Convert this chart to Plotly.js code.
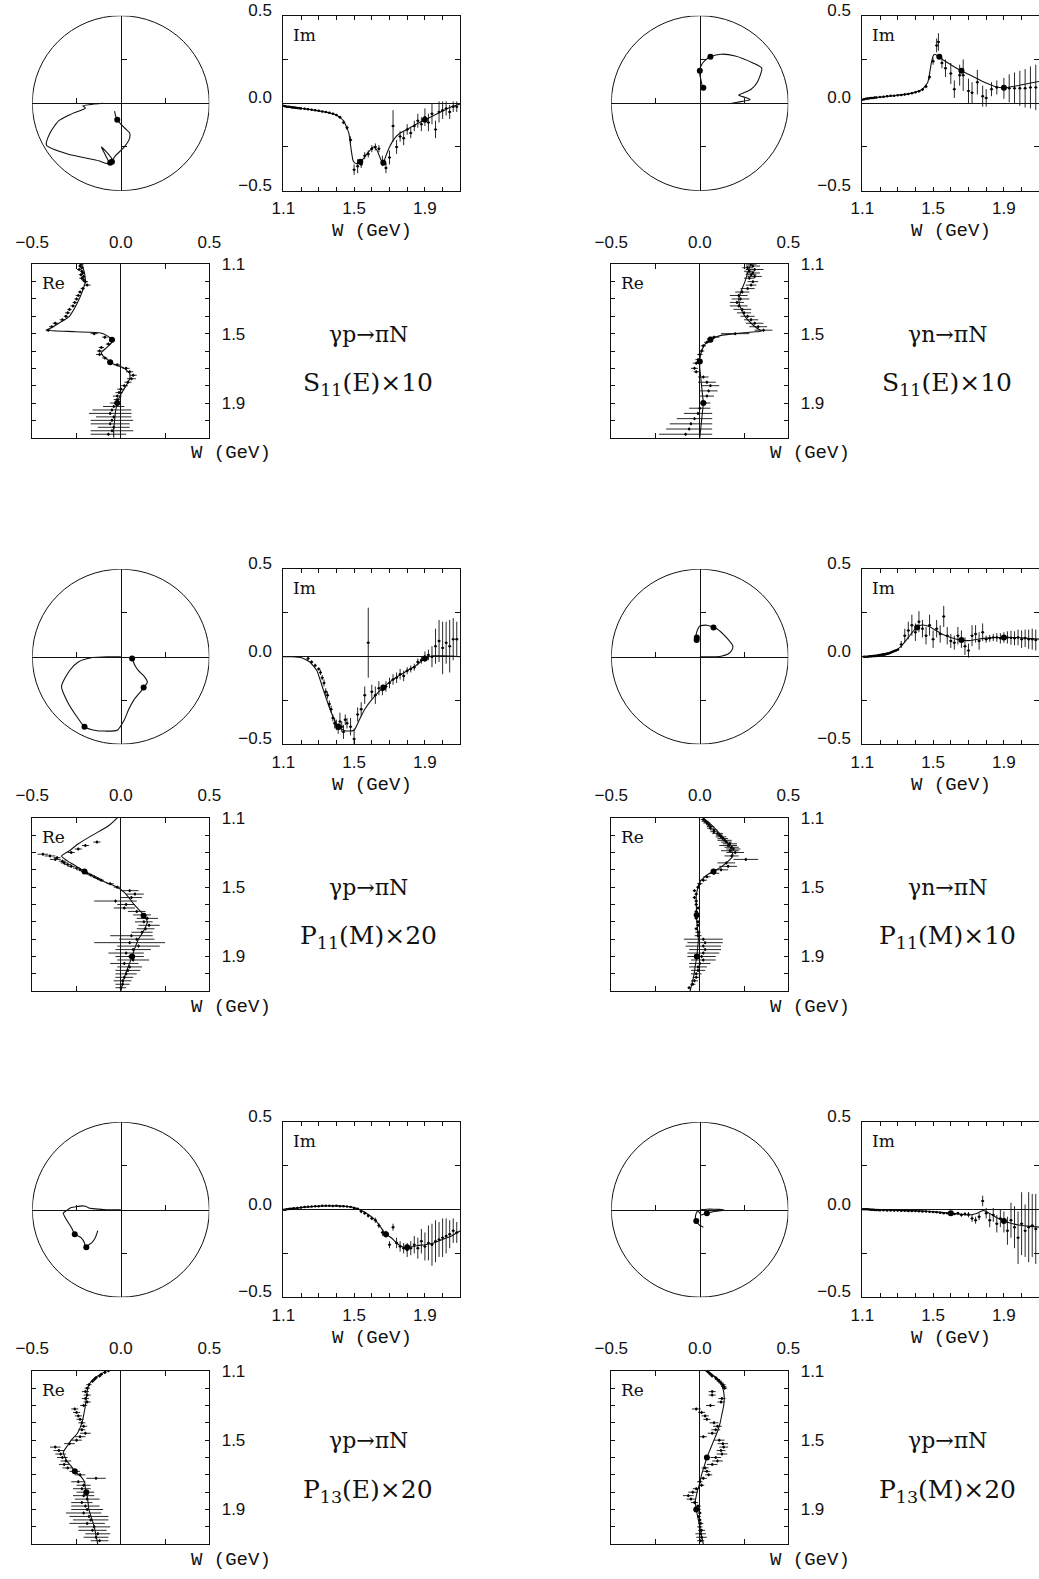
<!DOCTYPE html>
<html><head><meta charset="utf-8">
<script src="https://cdn.plot.ly/plotly-3.0.1.min.js"></script>
<style>html,body{margin:0;padding:0;background:#fff;}#chart{width:1039px;height:1579px;}</style>
</head><body><div id="chart"></div>
<script>
// ---------- tick labels ----------
const wTickVals = [1.1,1.5,1.9];
const wTickText = ['1.1','1.5','1.9'];
const wMinorVals = [1.2,1.3,1.4,1.6,1.7,1.8,2.0,2.1];
const ampTickVals = [-0.5,0,0.5];
const ampTickText = ['\u22120.5','0.0','0.5'];
const ampMinorVals = [-0.25,0.25];
const argandTickVals = [-0.25,0.25];

// ---------- panel texts ----------
const reactions = ['\u03B3p\u2192\u03C0N','\u03B3n\u2192\u03C0N','\u03B3p\u2192\u03C0N','\u03B3n\u2192\u03C0N','\u03B3p\u2192\u03C0N','\u03B3p\u2192\u03C0N'];
const waves = ['S','S','P','P','P','P'];
const waveSubs = ['11','11','11','11','13','13'];
const multipoles = ['E','E','M','M','E','M'];
const scaleFactors = ['10','10','20','10','20','20'];
const axisTitleW = 'W (GeV)';
const imLabel = 'Im';
const reLabel = 'Re';
const argandMaxW = [2.0,1.9,1.9,1.9,2.1,2.1];

// ---------- S11(E) gamma p ----------
const s11p_mW  = [1.077,1.10,1.15,1.20,1.25,1.30,1.35,1.40,1.44,1.47,1.48,1.487,1.495,1.51,1.535,1.55,1.58,1.61,1.63,1.65,1.665,1.68,1.70,1.73,1.76,1.80,1.85,1.90,1.95,2.00,2.05,2.10];
const s11p_mRe = [-0.10,-0.215,-0.205,-0.20,-0.215,-0.235,-0.26,-0.29,-0.35,-0.40,-0.42,-0.30,-0.12,-0.08,-0.05,-0.05,-0.08,-0.11,-0.10,-0.075,-0.06,-0.03,0.02,0.05,0.05,0.03,0.0,-0.02,-0.03,-0.035,-0.04,-0.04];
const s11p_mIm = [0,-0.015,-0.022,-0.029,-0.036,-0.044,-0.053,-0.067,-0.10,-0.17,-0.24,-0.29,-0.33,-0.345,-0.335,-0.32,-0.28,-0.25,-0.27,-0.32,-0.34,-0.30,-0.25,-0.20,-0.17,-0.15,-0.12,-0.095,-0.07,-0.045,-0.02,-0.005];
const s11p_resW = [1.535,1.665,1.90];
const s11p_dW = [1.10,1.11,1.12,1.13,1.14,1.15,1.16,1.17,1.18,1.19,1.20,1.22,1.24,1.26,1.28,1.30,1.32,1.34,1.36,1.38,1.40,1.42,1.44,1.46,1.48,1.50,1.52,1.54,1.56,1.58,1.60,1.62,1.64,1.66,1.68,1.70,1.72,1.74,1.76,1.78,1.80,1.82,1.84,1.86,1.88,1.90,1.92,1.94,1.96,1.98,2.00,2.02,2.04,2.06,2.08];
const s11p_dRe = [-0.225,-0.23,-0.22,-0.235,-0.22,-0.215,-0.225,-0.21,-0.22,-0.21,-0.20,-0.19,-0.215,-0.23,-0.24,-0.25,-0.26,-0.27,-0.29,-0.30,-0.31,-0.33,-0.37,-0.39,-0.41,-0.15,-0.09,-0.05,-0.07,-0.11,-0.12,-0.12,-0.09,-0.06,-0.02,0.03,0.05,0.07,0.06,0.04,0.02,0.0,-0.01,-0.02,-0.02,-0.03,-0.04,-0.05,-0.06,-0.04,-0.05,-0.06,-0.04,-0.05,-0.07];
const s11p_dReErr = [0.01,0.01,0.01,0.012,0.01,0.01,0.012,0.01,0.015,0.012,0.015,0.02,0.012,0.012,0.015,0.012,0.012,0.015,0.012,0.015,0.012,0.015,0.015,0.015,0.015,0.02,0.015,0.015,0.015,0.015,0.015,0.02,0.015,0.015,0.02,0.02,0.02,0.02,0.025,0.02,0.02,0.02,0.02,0.025,0.02,0.03,0.06,0.11,0.12,0.10,0.12,0.11,0.09,0.12,0.10];
const s11p_dIm = [-0.015,-0.017,-0.02,-0.02,-0.022,-0.024,-0.025,-0.026,-0.028,-0.029,-0.03,-0.032,-0.035,-0.037,-0.04,-0.043,-0.047,-0.05,-0.055,-0.06,-0.068,-0.08,-0.11,-0.14,-0.21,-0.38,-0.36,-0.35,-0.30,-0.29,-0.26,-0.25,-0.26,-0.33,-0.37,-0.31,-0.13,-0.25,-0.19,-0.20,-0.15,-0.17,-0.13,-0.10,-0.12,-0.08,-0.11,-0.06,-0.15,-0.05,-0.04,-0.03,-0.05,-0.02,-0.02];
const s11p_dImErr = [0.005,0.005,0.005,0.005,0.005,0.005,0.005,0.005,0.005,0.005,0.005,0.005,0.005,0.005,0.005,0.005,0.005,0.005,0.005,0.005,0.006,0.008,0.01,0.012,0.02,0.03,0.04,0.02,0.02,0.02,0.02,0.02,0.02,0.03,0.03,0.04,0.09,0.04,0.03,0.04,0.03,0.03,0.03,0.04,0.04,0.05,0.05,0.06,0.05,0.06,0.05,0.04,0.04,0.03,0.03];

// ---------- S11(E) gamma n ----------
const s11n_mW  = [1.077,1.10,1.15,1.20,1.25,1.30,1.35,1.40,1.44,1.47,1.485,1.49,1.50,1.51,1.535,1.56,1.60,1.65,1.70,1.75,1.80,1.85,1.90,1.95,2.00,2.05,2.10];
const s11n_mRe = [0.18,0.285,0.27,0.255,0.235,0.22,0.23,0.255,0.29,0.325,0.35,0.30,0.20,0.12,0.06,0.03,0.01,0.0,0.0,0.005,0.01,0.015,0.02,0.015,0.01,0.005,0.0];
const s11n_mIm = [0.0,0.02,0.028,0.034,0.04,0.045,0.052,0.062,0.08,0.12,0.20,0.23,0.27,0.28,0.265,0.245,0.22,0.19,0.165,0.14,0.115,0.095,0.088,0.095,0.105,0.115,0.124];
const s11n_resW = [1.535,1.66,1.90];
const s11n_dW = [1.10,1.11,1.12,1.13,1.14,1.15,1.16,1.17,1.18,1.20,1.22,1.24,1.26,1.28,1.30,1.32,1.34,1.36,1.38,1.40,1.42,1.44,1.46,1.48,1.50,1.52,1.53,1.55,1.57,1.60,1.62,1.65,1.67,1.70,1.72,1.75,1.78,1.80,1.83,1.86,1.90,1.93,1.96,1.99,2.02,2.05,2.08];
const s11n_dRe = [0.29,0.30,0.27,0.31,0.28,0.30,0.29,0.31,0.28,0.30,0.29,0.27,0.24,0.22,0.23,0.21,0.22,0.24,0.25,0.27,0.29,0.31,0.33,0.36,0.20,0.08,0.06,0.04,0.02,0.01,0.0,-0.01,-0.02,-0.03,-0.02,0.02,0.04,0.06,0.05,0.04,0.03,0.0,-0.01,-0.03,-0.05,-0.06,-0.08];
const s11n_dReErr = [0.03,0.04,0.03,0.05,0.03,0.04,0.03,0.04,0.03,0.03,0.03,0.04,0.04,0.05,0.05,0.04,0.05,0.05,0.04,0.04,0.04,0.05,0.05,0.05,0.08,0.03,0.02,0.015,0.015,0.015,0.015,0.015,0.02,0.02,0.015,0.03,0.05,0.05,0.05,0.04,0.03,0.06,0.08,0.10,0.12,0.13,0.15];
const s11n_dIm = [0.02,0.022,0.025,0.027,0.028,0.03,0.03,0.032,0.033,0.035,0.037,0.04,0.042,0.043,0.045,0.047,0.05,0.053,0.057,0.062,0.068,0.078,0.095,0.15,0.24,0.33,0.35,0.23,0.20,0.17,0.08,0.16,0.16,0.07,0.06,0.12,0.04,0.03,0.08,0.09,0.085,0.085,0.085,0.085,0.085,0.09,0.09];
const s11n_dImErr = [0.005,0.005,0.005,0.005,0.005,0.005,0.005,0.005,0.005,0.005,0.005,0.005,0.005,0.005,0.005,0.005,0.005,0.005,0.005,0.005,0.006,0.008,0.01,0.015,0.02,0.04,0.05,0.03,0.05,0.06,0.05,0.06,0.09,0.07,0.06,0.07,0.06,0.05,0.04,0.04,0.06,0.08,0.09,0.10,0.11,0.12,0.13];

// ---------- P11(M) gamma p ----------
const p11p_mW  = [1.077,1.10,1.15,1.20,1.25,1.29,1.32,1.35,1.38,1.41,1.44,1.47,1.50,1.53,1.56,1.60,1.65,1.70,1.75,1.80,1.85,1.90,1.95,2.00,2.05,2.10];
const p11p_mRe = [0.0,-0.02,-0.075,-0.16,-0.24,-0.29,-0.335,-0.30,-0.25,-0.205,-0.15,-0.09,-0.02,0.02,0.045,0.075,0.12,0.15,0.13,0.10,0.08,0.064,0.045,0.027,0.012,0.0];
const p11p_mIm = [0.0,0.0,0.0,-0.005,-0.03,-0.08,-0.17,-0.26,-0.34,-0.40,-0.42,-0.425,-0.42,-0.36,-0.30,-0.245,-0.19,-0.145,-0.11,-0.08,-0.05,-0.01,0.005,0.005,0.003,0.0];
const p11p_resW = [1.41,1.665,1.90];
const p11p_dW = [1.24,1.26,1.28,1.30,1.31,1.32,1.33,1.34,1.35,1.36,1.37,1.38,1.39,1.40,1.41,1.42,1.43,1.44,1.45,1.46,1.48,1.50,1.52,1.54,1.56,1.58,1.60,1.62,1.64,1.66,1.68,1.70,1.72,1.74,1.76,1.78,1.80,1.82,1.84,1.86,1.88,1.90,1.92,1.94,1.96,1.98,2.00,2.02,2.04,2.06,2.08];
const p11p_dRe = [-0.135,-0.20,-0.24,-0.28,-0.44,-0.40,-0.36,-0.37,-0.33,-0.32,-0.30,-0.28,-0.25,-0.23,-0.21,-0.19,-0.17,-0.15,-0.13,-0.11,-0.06,-0.02,0.05,0.08,0.06,-0.03,0.03,0.02,0.09,0.12,0.15,0.13,0.16,0.14,0.12,0.06,0.09,0.05,0.10,0.07,0.03,0.05,0.07,0.02,0.05,0.04,0.03,0.02,0.01,0.01,0.0];
const p11p_dReErr = [0.02,0.02,0.02,0.02,0.03,0.03,0.02,0.03,0.02,0.02,0.02,0.02,0.02,0.02,0.015,0.015,0.015,0.015,0.015,0.015,0.02,0.02,0.05,0.05,0.06,0.12,0.05,0.06,0.05,0.05,0.06,0.05,0.06,0.05,0.06,0.12,0.10,0.20,0.12,0.10,0.10,0.08,0.09,0.08,0.07,0.07,0.06,0.05,0.05,0.04,0.03];
const p11p_dIm = [-0.01,-0.03,-0.05,-0.07,-0.09,-0.12,-0.15,-0.20,-0.22,-0.27,-0.30,-0.35,-0.38,-0.39,-0.41,-0.37,-0.40,-0.43,-0.36,-0.38,-0.40,-0.47,-0.33,-0.30,-0.22,0.08,-0.20,-0.22,-0.18,-0.19,-0.17,-0.15,-0.13,-0.12,-0.10,-0.11,-0.08,-0.07,-0.06,-0.03,-0.02,0.0,0.01,0.0,0.06,0.09,0.05,0.08,0.06,0.10,0.10];
const p11p_dImErr = [0.01,0.01,0.01,0.01,0.015,0.015,0.02,0.02,0.02,0.02,0.02,0.02,0.03,0.03,0.03,0.05,0.03,0.04,0.03,0.03,0.05,0.06,0.04,0.04,0.05,0.2,0.04,0.05,0.04,0.03,0.03,0.03,0.03,0.03,0.03,0.03,0.02,0.02,0.02,0.02,0.02,0.03,0.03,0.06,0.10,0.12,0.15,0.12,0.15,0.12,0.10];

// ---------- P11(M) gamma n ----------
const p11n_mW  = [1.077,1.10,1.15,1.20,1.25,1.29,1.32,1.36,1.40,1.43,1.47,1.50,1.55,1.60,1.65,1.70,1.75,1.80,1.85,1.90,1.95,2.00,2.05,2.10];
const p11n_mRe = [0.0,0.02,0.075,0.12,0.16,0.18,0.187,0.15,0.096,0.04,0.0,-0.01,-0.02,-0.02,-0.018,-0.017,-0.012,-0.008,-0.012,-0.017,-0.025,-0.032,-0.043,-0.055];
const p11n_mIm = [0.0,0.0,0.0,0.003,0.015,0.035,0.06,0.11,0.16,0.18,0.175,0.16,0.13,0.11,0.096,0.092,0.10,0.106,0.11,0.11,0.11,0.108,0.104,0.10];
const p11n_resW = [1.41,1.66,1.90];
const p11n_dW = [1.11,1.12,1.13,1.14,1.15,1.16,1.17,1.18,1.19,1.20,1.21,1.22,1.23,1.24,1.25,1.26,1.27,1.28,1.29,1.30,1.32,1.34,1.36,1.38,1.40,1.42,1.44,1.46,1.48,1.50,1.52,1.54,1.56,1.58,1.60,1.62,1.64,1.66,1.68,1.70,1.72,1.74,1.76,1.78,1.80,1.82,1.84,1.86,1.88,1.90,1.92,1.94,1.96,1.98,2.00,2.02,2.04,2.06,2.08];
const p11n_dRe = [0.02,0.03,0.04,0.05,0.06,0.06,0.08,0.08,0.10,0.11,0.12,0.13,0.14,0.15,0.17,0.16,0.18,0.19,0.17,0.20,0.18,0.26,0.15,0.16,0.12,0.08,0.04,0.02,0.0,-0.01,-0.03,-0.02,-0.03,-0.02,-0.02,-0.01,-0.02,-0.01,-0.02,-0.01,-0.01,-0.02,-0.01,-0.01,0.02,0.03,0.02,0.03,0.02,0.01,0.02,0.0,-0.01,-0.01,-0.02,-0.02,-0.03,-0.04,-0.06];
const p11n_dReErr = [0.015,0.02,0.02,0.015,0.02,0.02,0.02,0.02,0.03,0.02,0.03,0.03,0.04,0.03,0.04,0.05,0.04,0.04,0.05,0.05,0.04,0.07,0.05,0.05,0.04,0.03,0.02,0.02,0.015,0.01,0.01,0.01,0.01,0.01,0.01,0.01,0.01,0.01,0.01,0.01,0.01,0.01,0.015,0.02,0.11,0.10,0.10,0.09,0.09,0.08,0.07,0.06,0.05,0.04,0.03,0.02,0.02,0.015,0.01];
const p11n_dIm = [0.0,0.0,0.0,0.002,0.003,0.004,0.005,0.006,0.008,0.01,0.012,0.014,0.016,0.018,0.02,0.024,0.028,0.032,0.036,0.04,0.07,0.12,0.15,0.18,0.14,0.20,0.16,0.12,0.18,0.10,0.16,0.13,0.23,0.12,0.09,0.08,0.12,0.10,0.06,0.035,0.12,0.13,0.09,0.14,0.10,0.105,0.11,0.11,0.105,0.11,0.11,0.108,0.105,0.11,0.10,0.105,0.10,0.10,0.095];
const p11n_dImErr = [0.005,0.005,0.005,0.005,0.005,0.005,0.005,0.005,0.005,0.005,0.005,0.005,0.005,0.005,0.005,0.005,0.005,0.005,0.005,0.005,0.02,0.04,0.05,0.06,0.05,0.06,0.05,0.05,0.06,0.05,0.05,0.05,0.06,0.05,0.04,0.04,0.05,0.05,0.05,0.04,0.06,0.05,0.05,0.05,0.02,0.02,0.02,0.025,0.03,0.03,0.035,0.04,0.04,0.045,0.05,0.05,0.055,0.06,0.06];

// ---------- P13(E) gamma p ----------
const p13e_mW  = [1.077,1.10,1.14,1.18,1.22,1.30,1.40,1.46,1.50,1.53,1.57,1.62,1.65,1.68,1.71,1.74,1.78,1.82,1.86,1.90,1.95,2.00,2.05,2.10];
const p13e_mRe = [0.0,-0.08,-0.145,-0.18,-0.19,-0.20,-0.22,-0.245,-0.28,-0.30,-0.325,-0.305,-0.28,-0.26,-0.225,-0.205,-0.20,-0.19,-0.185,-0.18,-0.165,-0.15,-0.14,-0.13];
const p13e_mIm = [0.0,0.0,0.005,0.01,0.015,0.02,0.022,0.018,0.012,0.0,-0.02,-0.06,-0.10,-0.14,-0.16,-0.19,-0.215,-0.213,-0.205,-0.20,-0.19,-0.17,-0.15,-0.12];
const p13e_resW = [1.68,1.80];
const p13e_dW = [1.10,1.11,1.12,1.13,1.14,1.15,1.16,1.18,1.20,1.22,1.24,1.26,1.28,1.30,1.32,1.34,1.36,1.38,1.40,1.42,1.44,1.46,1.48,1.50,1.52,1.54,1.56,1.58,1.60,1.62,1.64,1.66,1.68,1.70,1.72,1.74,1.76,1.78,1.80,1.82,1.84,1.86,1.88,1.90,1.92,1.94,1.96,1.98,2.00,2.02,2.04,2.06,2.08];
const p13e_dRe = [-0.07,-0.09,-0.11,-0.12,-0.14,-0.15,-0.16,-0.18,-0.19,-0.20,-0.19,-0.20,-0.19,-0.21,-0.26,-0.25,-0.24,-0.23,-0.22,-0.21,-0.22,-0.20,-0.23,-0.25,-0.29,-0.37,-0.35,-0.34,-0.33,-0.31,-0.32,-0.30,-0.26,-0.23,-0.14,-0.24,-0.21,-0.22,-0.20,-0.21,-0.19,-0.22,-0.20,-0.19,-0.21,-0.18,-0.17,-0.19,-0.15,-0.16,-0.13,-0.14,-0.12];
const p13e_dReErr = [0.01,0.01,0.01,0.01,0.01,0.01,0.01,0.015,0.015,0.02,0.02,0.02,0.02,0.02,0.02,0.02,0.02,0.02,0.02,0.02,0.02,0.03,0.03,0.03,0.03,0.03,0.03,0.03,0.03,0.03,0.03,0.03,0.03,0.03,0.055,0.04,0.04,0.05,0.05,0.06,0.07,0.06,0.08,0.09,0.10,0.11,0.10,0.10,0.09,0.08,0.07,0.07,0.05];
const p13e_dIm = [0.0,0.0,0.002,0.004,0.005,0.006,0.008,0.01,0.012,0.015,0.017,0.018,0.02,0.02,0.022,0.022,0.022,0.021,0.022,0.02,0.02,0.018,0.015,0.01,0.005,-0.01,-0.02,-0.035,-0.05,-0.06,-0.09,-0.13,-0.14,-0.20,-0.10,-0.19,-0.21,-0.22,-0.23,-0.22,-0.20,-0.22,-0.18,-0.21,-0.19,-0.20,-0.18,-0.17,-0.16,-0.15,-0.14,-0.12,-0.13];
const p13e_dImErr = [0.003,0.003,0.003,0.003,0.003,0.003,0.003,0.003,0.003,0.003,0.003,0.003,0.003,0.003,0.003,0.003,0.003,0.003,0.003,0.003,0.003,0.003,0.003,0.003,0.003,0.01,0.01,0.01,0.01,0.015,0.015,0.02,0.02,0.02,0.02,0.03,0.03,0.03,0.04,0.04,0.05,0.06,0.07,0.08,0.10,0.12,0.12,0.10,0.11,0.10,0.08,0.07,0.06];

// ---------- P13(M) gamma p ----------
const p13m_mW  = [1.077,1.10,1.13,1.16,1.20,1.25,1.30,1.35,1.40,1.45,1.50,1.55,1.60,1.65,1.70,1.75,1.78,1.80,1.85,1.90,1.95,2.00,2.05,2.10];
const p13m_mRe = [0.0,0.04,0.08,0.11,0.13,0.138,0.135,0.125,0.115,0.10,0.08,0.06,0.04,0.025,0.01,0.0,-0.01,-0.015,-0.025,-0.02,-0.01,0.0,0.01,0.02];
const p13m_mIm = [0.0,0.003,0.003,0.002,0.0,-0.002,-0.004,-0.005,-0.006,-0.008,-0.01,-0.015,-0.02,-0.025,-0.03,-0.02,-0.005,-0.01,-0.04,-0.065,-0.08,-0.09,-0.095,-0.10];
const p13m_resW = [1.60,1.90];
const p13m_dW = [1.10,1.11,1.12,1.13,1.14,1.15,1.16,1.17,1.18,1.19,1.20,1.22,1.24,1.26,1.28,1.30,1.32,1.34,1.36,1.38,1.40,1.42,1.44,1.46,1.48,1.50,1.52,1.54,1.56,1.58,1.60,1.62,1.64,1.66,1.68,1.70,1.72,1.74,1.76,1.78,1.80,1.82,1.84,1.86,1.88,1.90,1.92,1.94,1.96,1.98,2.00,2.02,2.04,2.06,2.08];
const p13m_dRe = [0.04,0.05,0.06,0.07,0.09,0.10,0.11,0.12,0.13,0.135,0.14,0.07,0.07,0.125,0.12,0.06,-0.02,0.01,0.03,0.04,0.08,0.10,0.09,0.07,0.02,0.11,0.13,0.135,0.12,0.125,0.09,0.10,0.07,0.03,0.04,0.05,0.02,0.0,0.01,-0.02,-0.04,-0.065,-0.05,-0.03,-0.01,-0.01,0.0,-0.005,0.0,0.005,0.0,0.01,0.005,0.01,0.005];
const p13m_dReErr = [0.01,0.01,0.01,0.01,0.01,0.015,0.015,0.015,0.015,0.015,0.015,0.02,0.02,0.02,0.02,0.025,0.025,0.02,0.02,0.02,0.025,0.025,0.025,0.025,0.02,0.03,0.03,0.025,0.025,0.03,0.03,0.03,0.03,0.02,0.02,0.02,0.02,0.015,0.015,0.02,0.025,0.03,0.025,0.02,0.015,0.015,0.01,0.01,0.01,0.015,0.015,0.02,0.03,0.03,0.02];
const p13m_dIm = [0.003,0.003,0.002,0.002,0.001,0.0,0.0,-0.001,-0.002,-0.002,-0.003,-0.003,-0.004,-0.004,-0.005,-0.005,-0.006,-0.006,-0.007,-0.007,-0.008,-0.009,-0.01,-0.01,-0.012,-0.013,-0.015,-0.018,-0.02,-0.02,-0.022,-0.025,-0.02,-0.03,-0.025,-0.028,-0.05,-0.06,-0.04,0.05,-0.02,-0.06,-0.03,-0.08,-0.05,-0.07,-0.12,-0.06,-0.10,-0.16,-0.08,-0.12,-0.10,-0.09,-0.11];
const p13m_dImErr = [0.003,0.003,0.003,0.003,0.003,0.003,0.003,0.003,0.003,0.003,0.003,0.003,0.003,0.003,0.003,0.003,0.003,0.003,0.003,0.003,0.003,0.003,0.003,0.003,0.003,0.003,0.003,0.003,0.003,0.003,0.005,0.005,0.008,0.01,0.01,0.015,0.02,0.02,0.02,0.03,0.03,0.04,0.04,0.05,0.05,0.06,0.08,0.10,0.12,0.15,0.18,0.15,0.2,0.18,0.2];

// ---------- assemble ----------
const panels = [
  {mW:s11p_mW,mRe:s11p_mRe,mIm:s11p_mIm,resW:s11p_resW,dW:s11p_dW,dRe:s11p_dRe,dReErr:s11p_dReErr,dIm:s11p_dIm,dImErr:s11p_dImErr},
  {mW:s11n_mW,mRe:s11n_mRe,mIm:s11n_mIm,resW:s11n_resW,dW:s11n_dW,dRe:s11n_dRe,dReErr:s11n_dReErr,dIm:s11n_dIm,dImErr:s11n_dImErr},
  {mW:p11p_mW,mRe:p11p_mRe,mIm:p11p_mIm,resW:p11p_resW,dW:p11p_dW,dRe:p11p_dRe,dReErr:p11p_dReErr,dIm:p11p_dIm,dImErr:p11p_dImErr},
  {mW:p11n_mW,mRe:p11n_mRe,mIm:p11n_mIm,resW:p11n_resW,dW:p11n_dW,dRe:p11n_dRe,dReErr:p11n_dReErr,dIm:p11n_dIm,dImErr:p11n_dImErr},
  {mW:p13e_mW,mRe:p13e_mRe,mIm:p13e_mIm,resW:p13e_resW,dW:p13e_dW,dRe:p13e_dRe,dReErr:p13e_dReErr,dIm:p13e_dIm,dImErr:p13e_dImErr},
  {mW:p13m_mW,mRe:p13m_mRe,mIm:p13m_mIm,resW:p13m_resW,dW:p13m_dW,dRe:p13m_dRe,dReErr:p13m_dReErr,dIm:p13m_dIm,dImErr:p13m_dImErr}
];

const W_PX = 1039, H_PX = 1579;
const colOff = [0, 579];
const rowOff = [0, 553.5, 1106.5];
const baseCirc = {x0:32.3, x1:209.3, y0:15.7, y1:190.7};
const baseIm   = {x0:283.3, x1:460.3, y0:15.7, y1:190.7};
const baseRe   = {x0:32.3, x1:209.3, y0:264.3, y1:437.7};

const INK = '#111';
const numFont = {family:'Liberation Sans, Arial, sans-serif', size:17, color:INK};
const monoFont = {family:'Liberation Mono, Courier New, monospace', size:19, color:INK};
const serifFont = {family:'DejaVu Serif, serif', size:17, color:INK};
const bigSerif = {family:'DejaVu Serif, serif', size:22, color:INK};
const hugeSerif = {family:'DejaVu Serif, serif', size:25, color:INK};

function shift(b, c, r){ return {x0:b.x0+colOff[c], x1:b.x1+colOff[c], y0:b.y0+rowOff[r], y1:b.y1+rowOff[r]}; }
function domX(R){ return [R.x0/W_PX, Math.min(R.x1, W_PX)/W_PX]; }
function domY(R){ return [1 - R.y1/H_PX, 1 - R.y0/H_PX]; }
function px2paperX(x){ return x / W_PX; }
function px2paperY(y){ return 1 - y / H_PX; }
function interp(xs, ys, x){
  for (let i = 0; i < xs.length - 1; i++) {
    if (x >= xs[i] && x <= xs[i+1]) {
      const t = (x - xs[i]) / (xs[i+1] - xs[i]);
      return ys[i] + t * (ys[i+1] - ys[i]);
    }
  }
  return ys[ys.length-1];
}
function axName(k, n){ return n === 1 ? k + 'axis' : k + 'axis' + n; }
function axRef(k, n){ return n === 1 ? k : k + n; }
function minorTicks(vals, len){ return {tickmode: 'array', tickvals: vals, ticks: 'inside', ticklen: len, tickcolor: INK, tickwidth: 1, showgrid: false}; }

const layout = {
  width: W_PX, height: H_PX,
  margin: {l:0, r:0, t:0, b:0},
  paper_bgcolor: '#fff', plot_bgcolor: 'rgba(0,0,0,0)',
  showlegend: false,
  shapes: [], annotations: []
};
const traces = [];

const lineStyle = {color: INK, width: 1.1};
const dotStyle = {size: 6, color: '#000'};
const ptStyle = {size: 2.5, color: '#000'};

panels.forEach((P, p) => {
  const r = Math.floor(p / 2), c = p % 2;
  const ox = colOff[c], oy = rowOff[r];
  const nC = 3*p + 1, nI = 3*p + 2, nR = 3*p + 3;
  const RC = shift(baseCirc, c, r), RI = shift(baseIm, c, r), RR = shift(baseRe, c, r);

  // ----- Argand circle subplot -----
  const dC = {x: domX(RC), y: domY(RC)};
  layout[axName('x', nC)] = {
    domain: dC.x, range: [-0.5, 0.5], anchor: 'free', position: (dC.y[0] + dC.y[1]) / 2,
    showline: true, linecolor: INK, linewidth: 1, ticks: 'inside', ticklen: 5, tickcolor: INK,
    tickmode: 'array', tickvals: argandTickVals, showticklabels: false, showgrid: false, zeroline: false, fixedrange: true
  };
  layout[axName('y', nC)] = {
    domain: dC.y, range: [-0.5, 0.5], anchor: 'free', position: (dC.x[0] + dC.x[1]) / 2, side: 'left',
    showline: true, linecolor: INK, linewidth: 1, ticks: 'inside', ticklen: 5, tickcolor: INK,
    tickmode: 'array', tickvals: argandTickVals, showticklabels: false, showgrid: false, zeroline: false, fixedrange: true
  };
  layout.shapes.push({type: 'circle', xref: axRef('x', nC), yref: axRef('y', nC),
    x0: -0.5, x1: 0.5, y0: -0.5, y1: 0.5, line: {color: INK, width: 1}});
  const aRe = [], aIm = [];
  P.mW.forEach((w, i) => { if (w <= argandMaxW[p] + 1e-9) { aRe.push(P.mRe[i]); aIm.push(P.mIm[i]); } });
  traces.push({type: 'scatter', mode: 'lines', x: aRe, y: aIm, xaxis: axRef('x', nC), yaxis: axRef('y', nC),
    line: Object.assign({shape: 'spline', smoothing: 0.6}, lineStyle), hoverinfo: 'skip'});
  traces.push({type: 'scatter', mode: 'markers', xaxis: axRef('x', nC), yaxis: axRef('y', nC),
    x: P.resW.map(w => interp(P.mW, P.mRe, w)), y: P.resW.map(w => interp(P.mW, P.mIm, w)),
    marker: dotStyle, hoverinfo: 'skip'});

  // ----- Im(W) subplot -----
  const dI = {x: domX(RI), y: domY(RI)};
  const imXEnd = 1.1 + (Math.min(RI.x1, W_PX) - RI.x0) / (RI.x1 - RI.x0);
  layout[axName('x', nI)] = {
    domain: dI.x, range: [1.1, imXEnd], anchor: axRef('y', nI),
    showline: true, mirror: 'ticks', linecolor: INK, linewidth: 1,
    ticks: 'inside', ticklen: 4, tickcolor: INK, tickmode: 'array', tickvals: wTickVals, ticktext: wTickText,
    minor: minorTicks(wMinorVals, 4),
    tickfont: numFont, ticklabelstandoff: 2, showgrid: false, zeroline: false, fixedrange: true
  };
  layout[axName('y', nI)] = {
    domain: dI.y, range: [-0.5, 0.5], anchor: axRef('x', nI),
    showline: true, mirror: 'ticks', linecolor: INK, linewidth: 1,
    ticks: 'inside', ticklen: 5, tickcolor: INK, tickmode: 'array', tickvals: ampTickVals, ticktext: ampTickText,
    minor: minorTicks(ampMinorVals, 5),
    tickfont: numFont, ticklabelstandoff: 7, ticklabelshift: -6,
    showgrid: false, zeroline: true, zerolinecolor: INK, zerolinewidth: 1, fixedrange: true
  };
  traces.push({type: 'scatter', mode: 'lines', x: P.mW, y: P.mIm, xaxis: axRef('x', nI), yaxis: axRef('y', nI),
    line: Object.assign({shape: 'spline', smoothing: 0.5}, lineStyle), hoverinfo: 'skip'});
  traces.push({type: 'scatter', mode: 'markers', x: P.dW, y: P.dIm, xaxis: axRef('x', nI), yaxis: axRef('y', nI),
    marker: ptStyle, hoverinfo: 'skip',
    error_y: {type: 'data', array: P.dImErr, visible: true, color: INK, thickness: 0.9, width: 0},
    error_x: {type: 'constant', value: 0.009, visible: true, color: INK, thickness: 0.9, width: 0}});
  traces.push({type: 'scatter', mode: 'markers', x: P.resW, y: P.resW.map(w => interp(P.mW, P.mIm, w)),
    xaxis: axRef('x', nI), yaxis: axRef('y', nI), marker: dotStyle, hoverinfo: 'skip'});

  // ----- Re(W) subplot (W downward) -----
  const dR = {x: domX(RR), y: domY(RR)};
  layout[axName('x', nR)] = {
    domain: dR.x, range: [-0.5, 0.5], anchor: axRef('y', nR), side: 'top',
    showline: true, mirror: 'ticks', linecolor: INK, linewidth: 1,
    ticks: 'inside', ticklen: 5, tickcolor: INK, tickmode: 'array', tickvals: ampTickVals, ticktext: ampTickText,
    minor: minorTicks(ampMinorVals, 5),
    tickfont: numFont, ticklabelstandoff: 9,
    showgrid: false, zeroline: true, zerolinecolor: INK, zerolinewidth: 1, fixedrange: true
  };
  layout[axName('y', nR)] = {
    domain: dR.y, range: [2.1, 1.1], anchor: axRef('x', nR), side: 'right',
    showline: true, mirror: 'ticks', linecolor: INK, linewidth: 1,
    ticks: 'inside', ticklen: 4, tickcolor: INK, tickmode: 'array', tickvals: wTickVals, ticktext: wTickText,
    minor: minorTicks(wMinorVals, 4),
    tickfont: numFont, ticklabelstandoff: 8, showgrid: false, zeroline: false, fixedrange: true
  };
  traces.push({type: 'scatter', mode: 'lines', x: P.mRe, y: P.mW, xaxis: axRef('x', nR), yaxis: axRef('y', nR),
    line: Object.assign({shape: 'spline', smoothing: 0.5}, lineStyle), hoverinfo: 'skip'});
  traces.push({type: 'scatter', mode: 'markers', x: P.dRe, y: P.dW, xaxis: axRef('x', nR), yaxis: axRef('y', nR),
    marker: ptStyle, hoverinfo: 'skip',
    error_x: {type: 'data', array: P.dReErr, visible: true, color: INK, thickness: 0.9, width: 0},
    error_y: {type: 'constant', value: 0.009, visible: true, color: INK, thickness: 0.9, width: 0}});
  traces.push({type: 'scatter', mode: 'markers', x: P.resW.map(w => interp(P.mW, P.mRe, w)), y: P.resW,
    xaxis: axRef('x', nR), yaxis: axRef('y', nR), marker: dotStyle, hoverinfo: 'skip'});

  // ----- texts -----
  const A = layout.annotations;
  A.push({text: imLabel, xref: 'paper', yref: 'paper', x: px2paperX(RI.x0 + 8), y: px2paperY(RI.y0 + 7),
    xanchor: 'left', yanchor: 'top', showarrow: false, font: serifFont});
  A.push({text: reLabel, xref: 'paper', yref: 'paper', x: px2paperX(RR.x0 + 8), y: px2paperY(RR.y0 + 7),
    xanchor: 'left', yanchor: 'top', showarrow: false, font: serifFont});
  A.push({text: axisTitleW, xref: 'paper', yref: 'paper', x: px2paperX(371.8 + ox), y: px2paperY(231 + oy),
    xanchor: 'center', yanchor: 'middle', showarrow: false, font: monoFont});
  A.push({text: axisTitleW, xref: 'paper', yref: 'paper', x: px2paperX(231 + ox), y: px2paperY(453 + oy),
    xanchor: 'center', yanchor: 'middle', showarrow: false, font: monoFont});
  A.push({text: reactions[p], xref: 'paper', yref: 'paper', x: px2paperX(368 + ox), y: px2paperY(334 + oy),
    xanchor: 'center', yanchor: 'middle', showarrow: false, font: bigSerif});
  A.push({text: waves[p] + '<sub>' + waveSubs[p] + '</sub>(' + multipoles[p] + ')\u00D7' + scaleFactors[p],
    xref: 'paper', yref: 'paper', x: px2paperX(368 + ox), y: px2paperY(384 + oy),
    xanchor: 'center', yanchor: 'middle', showarrow: false, font: hugeSerif});
});

Plotly.newPlot('chart', traces, layout, {staticPlot: true, displayModeBar: false});
</script>
</body></html>
